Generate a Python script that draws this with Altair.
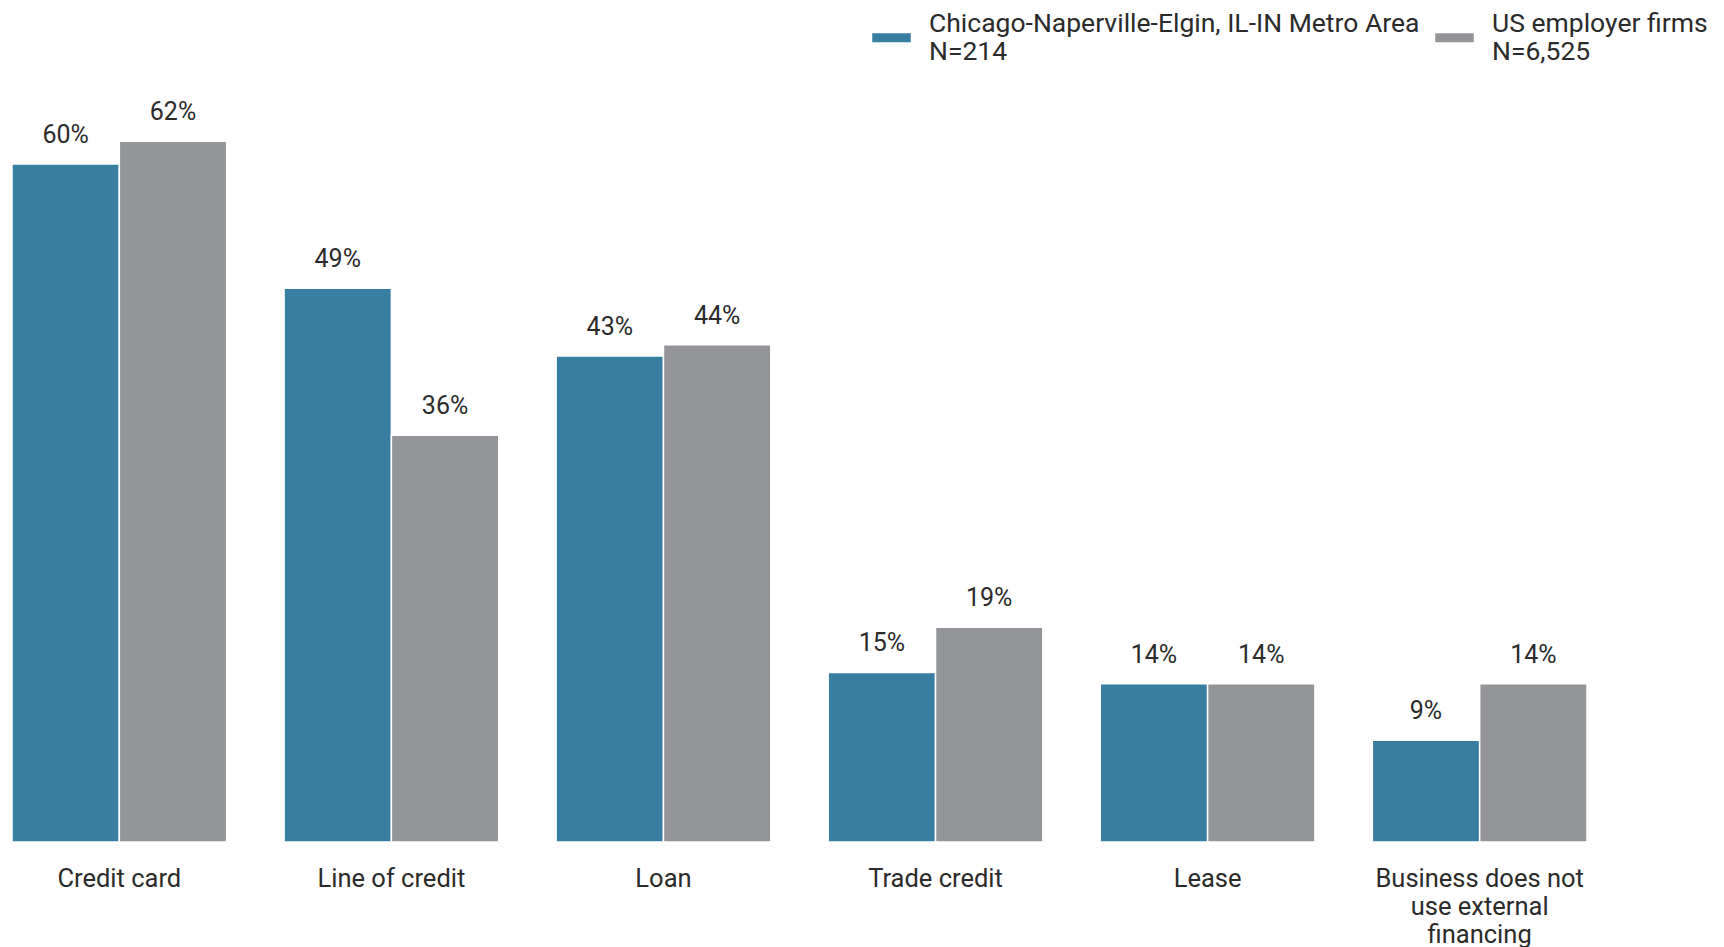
import altair as alt
import pandas as pd

categories = ["Credit card", "Line of credit", "Loan", "Trade credit", "Lease",
              "Business does not|use external|financing"]
chicago = [60, 49, 43, 15, 14, 9]
us = [62, 36, 44, 19, 14, 14]
series = ["Chicago-Naperville-Elgin, IL-IN Metro Area|N=214", "US employer firms|N=6,525"]
colors = ["#377EA0", "#949599"]

rows = []
for c, a, b in zip(categories, chicago, us):
    rows.append({"cat": c, "series": series[0], "value": a})
    rows.append({"cat": c, "series": series[1], "value": b})
df = pd.DataFrame(rows)

FONT = "Roboto"
rect_path = "M-1,-0.234L1,-0.234L1,0.234L-1,0.234Z"

x = alt.X("cat:N", sort=categories, title=None,
          scale=alt.Scale(paddingInner=0.211, paddingOuter=0.0147),
          axis=alt.Axis(labelExpr="split(datum.label, '|')", labelFont=FONT,
                        labelFontSize=25.5, labelColor="#2b2b2b", labelAngle=0,
                        ticks=False, domain=False, grid=False, labelPadding=24,
                        labelLineHeight=28, labelBaseline="top", labelLimit=600))
xo = alt.XOffset("series:N", sort=series, scale=alt.Scale(paddingInner=0, paddingOuter=0))
y = alt.Y("value:Q", scale=alt.Scale(domain=[0, 73.8], nice=False, zero=True), axis=None)

bars = alt.Chart(df).mark_bar(stroke="white", strokeWidth=1.5).encode(
    x=x, xOffset=xo, y=y,
    color=alt.Color("series:N", sort=series,
                    scale=alt.Scale(domain=series, range=colors),
                    legend=alt.Legend(orient="none", legendX=864, legendY=10,
                                      direction="horizontal", title=None,
                                      labelExpr="split(datum.label, '|')",
                                      symbolType=rect_path, symbolSize=1482,
                                      symbolStrokeWidth=0, labelFont=FONT,
                                      labelFontSize=26.5, labelColor="#2b2b2b",
                                      labelLimit=1000, columnPadding=15,
                                      labelOffset=18, padding=0,
                                      labelBaseline="bottom")),
)

labels = alt.Chart(df).transform_calculate(
    lab="datum.value + '%'"
).mark_text(font=FONT, fontSize=25, color="#2b2b2b", baseline="alphabetic", dy=-21).encode(
    x=x, xOffset=xo, y=y, text="lab:N"
)

chart = (bars + labels).properties(width=1583, height=834, padding=0).configure_view(stroke=None)
chart.save("out.html", embed_options={"renderer": "svg", "actions": False})
